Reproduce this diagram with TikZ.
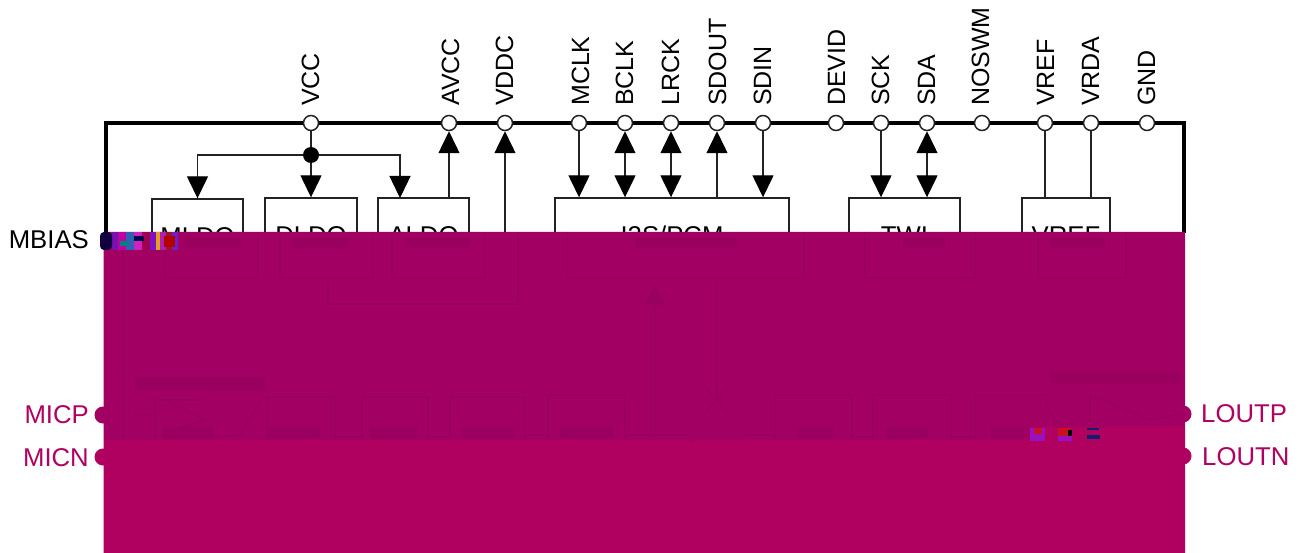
\documentclass[tikz,border=0pt]{standalone}
\usepackage{fontspec}
\setmainfont{Liberation Sans}
\usetikzlibrary{arrows.meta}
\definecolor{bandA}{HTML}{A30063}
\definecolor{bandB}{HTML}{B00060}
\definecolor{ghostc}{HTML}{9A005D}
\definecolor{linec}{HTML}{222222}
\tikzset{
  x=1pt,y=-1pt,
  txt/.style={font=\fontsize{25.7pt}{26pt}\selectfont,inner sep=0pt},
  vtxt/.style={font=\fontsize{25pt}{26pt}\selectfont,inner sep=0pt},
  pinc/.style={circle,draw=linec,line width=1.5pt,fill=white,minimum size=15pt,inner sep=0pt},
  dotc/.style={circle,fill=black,minimum size=16pt,inner sep=0pt},
  blockc/.style={draw=linec,line width=1.4pt,fill=white,minimum height=76pt,inner sep=0pt,text height=18pt,text depth=0pt,font=\fontsize{25.7pt}{26pt}\selectfont},
  wire/.style={draw=linec,line width=1.4pt},
  tip/.style={-{Triangle[length=22pt,width=21pt,color=black]}},
  tipb/.style={{Triangle[length=22pt,width=21pt,color=black]}-{Triangle[length=22pt,width=21pt,color=black]}},
  ghost/.style={draw=ghostc,line width=1.5pt},
  smudge/.style={fill=ghostc,rounded corners=2pt}
}
\begin{document}
\begin{tikzpicture}
\useasboundingbox (0,0) rectangle (1300,553);
\fill[white] (0,0) rectangle (1300,553);
% frame
\draw[black,line width=4pt,line join=miter] (106,233) -- (106,123) -- (1184,123) -- (1184,233);
% blocks
\node[blockc,minimum width=91pt] (mldo) at (197.5,237) {MLDO};
\node[blockc,minimum width=92pt] (dldo) at (311,236) {DLDO};
\node[blockc,minimum width=91pt] (aldo) at (423.5,236) {ALDO};
\node[blockc,minimum width=234pt] (i2s) at (672,236) {I2S/PCM};
\node[blockc,minimum width=111pt] (twi) at (904.5,236) {TWI};
\node[blockc,minimum width=88pt] (vrefb) at (1066,236) {VREF};
% pin labels
\foreach \n/\l in {VCC/319,AVCC/459,VDDC/513,MCLK/589,BCLK/633,LRCK/679,SDOUT/726,SDIN/771,DEVID/845,SCK/889,SDA/935,NOSWM/989,VREF/1054,VRDA/1099,GND/1155}{
  \node[vtxt,rotate=90,anchor=base west] (l\n) at (\l,106) {\n};
}
% pins
\foreach \n/\x in {VCC/311,AVCC/449,VDDC/505,MCLK/579,BCLK/625,LRCK/671,SDOUT/717,SDIN/763,DEVID/836,SCK/881,SDA/927,NOSWM/982,VREF/1045,VRDA/1091,GND/1147}{
  \node[pinc] (p\n) at (\x,123) {};
}
\node[dotc] (jct) at (311,155) {};
\coordinate (aldoarm) at (400,198);
\coordinate (aldoout) at (449,198);
\coordinate (vddcin) at (505,233);
% connectors
\draw[wire] (pVCC) -- (jct);
\draw[wire,tip] (jct) -- (dldo.north);
\draw[wire,tip] (jct) -| (mldo.north);
\draw[wire,tip] (jct) -| (aldoarm);
\draw[wire,tip] (aldoout) -- (pAVCC.south);
\draw[wire,tip] (vddcin) -- (pVDDC.south);
\draw[wire,tip] (pMCLK.south) -- (pMCLK.south |- i2s.north);
\draw[wire,tipb] (pBCLK.south) -- (pBCLK.south |- i2s.north);
\draw[wire,tipb] (pLRCK.south) -- (pLRCK.south |- i2s.north);
\draw[wire,tip] (pSDOUT.south |- i2s.north) -- (pSDOUT.south);
\draw[wire,tip] (pSDIN.south) -- (pSDIN.south |- i2s.north);
\draw[wire,tip] (pSCK.south) -- (pSCK.south |- twi.north);
\draw[wire,tipb] (pSDA.south) -- (pSDA.south |- twi.north);
\draw[wire] (pVREF.south) -- (pVREF.south |- vrefb.north);
\draw[wire] (pVRDA.south) -- (pVRDA.south |- vrefb.north);
% flat colour fields
\fill[bandB] (103.5,440) -- (1030,440) -- (1030,427) -- (1185,427) -- (1185,553) -- (103.5,553) -- cycle;
\fill[bandA] (103.5,232) -- (1185,232) -- (1185,427) -- (1030,427) -- (1030,440) -- (103.5,440) -- cycle;
% side pins
\node[circle,fill=bandA,minimum size=17pt,inner sep=0pt] (micp) at (103,415) {};
\node[circle,fill=bandB,minimum size=17pt,inner sep=0pt] (micn) at (103,457) {};
\node[circle,fill=bandA,minimum size=17pt,inner sep=0pt] (loutp) at (1183,414) {};
\node[circle,fill=bandB,minimum size=17pt,inner sep=0pt] (loutn) at (1183,456) {};
% faint structure inside the field
\begin{scope}
\clip (103.5,232) rectangle (1185,440);
\draw[ghost] (123,232) -- (123,440);
\draw[ghost] (165,232) |- (258,278) -- (258,232);
\draw[ghost] (280,232) |- (373,278) -- (373,232);
\draw[ghost] (392,232) |- (485,278) -- (485,232);
\draw[ghost] (328,278) |- (518,304) -- (518,232);
\draw[ghost] (567,232) |- (804,278) -- (804,232);
\draw[ghost] (865,232) |- (975,278) -- (975,232);
\draw[ghost] (1038,232) |- (1126,278) -- (1126,232);
% lower row
\draw[ghost] (133,415) -- (155,415);
\draw[ghost] (155,440) -- (155,400) -- (200,400);
\draw[ghost] (165,400) -- (205,420) -- (165,432);
\draw[ghost] (263,397) -- (240,435) -- (215,437);
\draw[ghost] (267,440) |- (335,397) -- (335,440);
\draw[ghost] (335,437) -- (362,437);
\draw[ghost] (362,440) |- (428,397) -- (428,440);
\draw[ghost] (428,437) -- (450,437);
\draw[ghost] (450,440) |- (525,397) -- (525,440);
\draw[ghost] (525,435) -- (548,435);
\draw[ghost] (548,440) |- (625,395) -- (625,440);
\draw[ghost] (625,435) -- (690,435);
\draw[ghost] (655,435) -- (655,300);
\fill[ghostc] (655,285) -- (645,304) -- (665,304) -- cycle;
\draw[ghost] (717,278) -- (717,400);
\draw[ghost] (706,388) -- (728,412);
\draw[ghost] (728,388) -- (706,412);
\draw[ghost] (692,440) arc[start angle=180,end angle=0,radius=26];
\draw[ghost] (744,435) -- (775,435);
\draw[ghost] (775,440) |- (852,395) -- (852,440);
\draw[ghost] (852,437) -- (873,437);
\draw[ghost] (873,440) |- (951,395) -- (951,440);
\draw[ghost] (951,437) -- (975,437);
\draw[ghost] (975,440) |- (1046,395) -- (1046,405) -- (1062,432);
\draw[ghost] (1090,395) -- (1090,425);
\draw[ghost] (1090,395) -- (1150,420) -- (1180,414);
% illegible smudges of print
\foreach \a/\b/\y/\h in {185/240/237/11,292/348/237/11,405/470/237/11,635/736/237/11,903/945/237/11,1050/1105/237/11,135/265/377/13,163/213/427/11,267/320/427/11,370/417/427/11,462/515/427/11,560/613/427/11,797/833/427/11,886/928/427/11,991/1025/427/11,1050/1180/371/12}{
  \fill[smudge] (\a,\y) rectangle ++(\b-\a,\h);
}
\end{scope}
% corrupted patches
\foreach \a/\b/\c in {112/118/7A10B0,118/126/C000A0,126/134/3060B0,134/142/D020C0,142/150/A00050,150/156/8010C0,156/160/E0A020,160/166/B020B0,166/172/A01030,172/178/7020C0}{
  \definecolor{nz}{HTML}{\c}
  \fill[nz] (\a,232) rectangle (\b,250);
}
\definecolor{nzD}{HTML}{100040}
\fill[nzD,rounded corners=4pt] (100,232) rectangle (112,250);
\fill[black!70!blue] (134,236) rectangle (144,241);
\fill[teal] (120,241) rectangle (128,246);
\fill[red!70!black] (164,236) rectangle (175,247);
\definecolor{nzA}{HTML}{9A10C0}\definecolor{nzB}{HTML}{C81020}\definecolor{nzC}{HTML}{102070}
\fill[nzA] (1030,428) rectangle (1045,441);
\fill[nzB] (1034,428) rectangle (1042,434);
\fill[nzB] (1058,428) rectangle (1070,436);
\fill[nzA] (1058,436) rectangle (1072,441);
\fill[black] (1068,430) rectangle (1072,436);
\fill[nzC] (1087,428) rectangle (1099,430);
\fill[nzC] (1087,435) rectangle (1100,439);
% side labels
\node[txt,anchor=base east] (mbias) at (89,248) {MBIAS};
\node[txt,text=bandB,anchor=base east] (lmicp) at (89,423) {MICP};
\node[txt,text=bandB,anchor=base east] (lmicn) at (89,466) {MICN};
\node[txt,text=bandB,anchor=base west] (lloutp) at (1201,422) {LOUTP};
\node[txt,text=bandB,anchor=base west] (lloutn) at (1202,465) {LOUTN};
\end{tikzpicture}
\end{document}
